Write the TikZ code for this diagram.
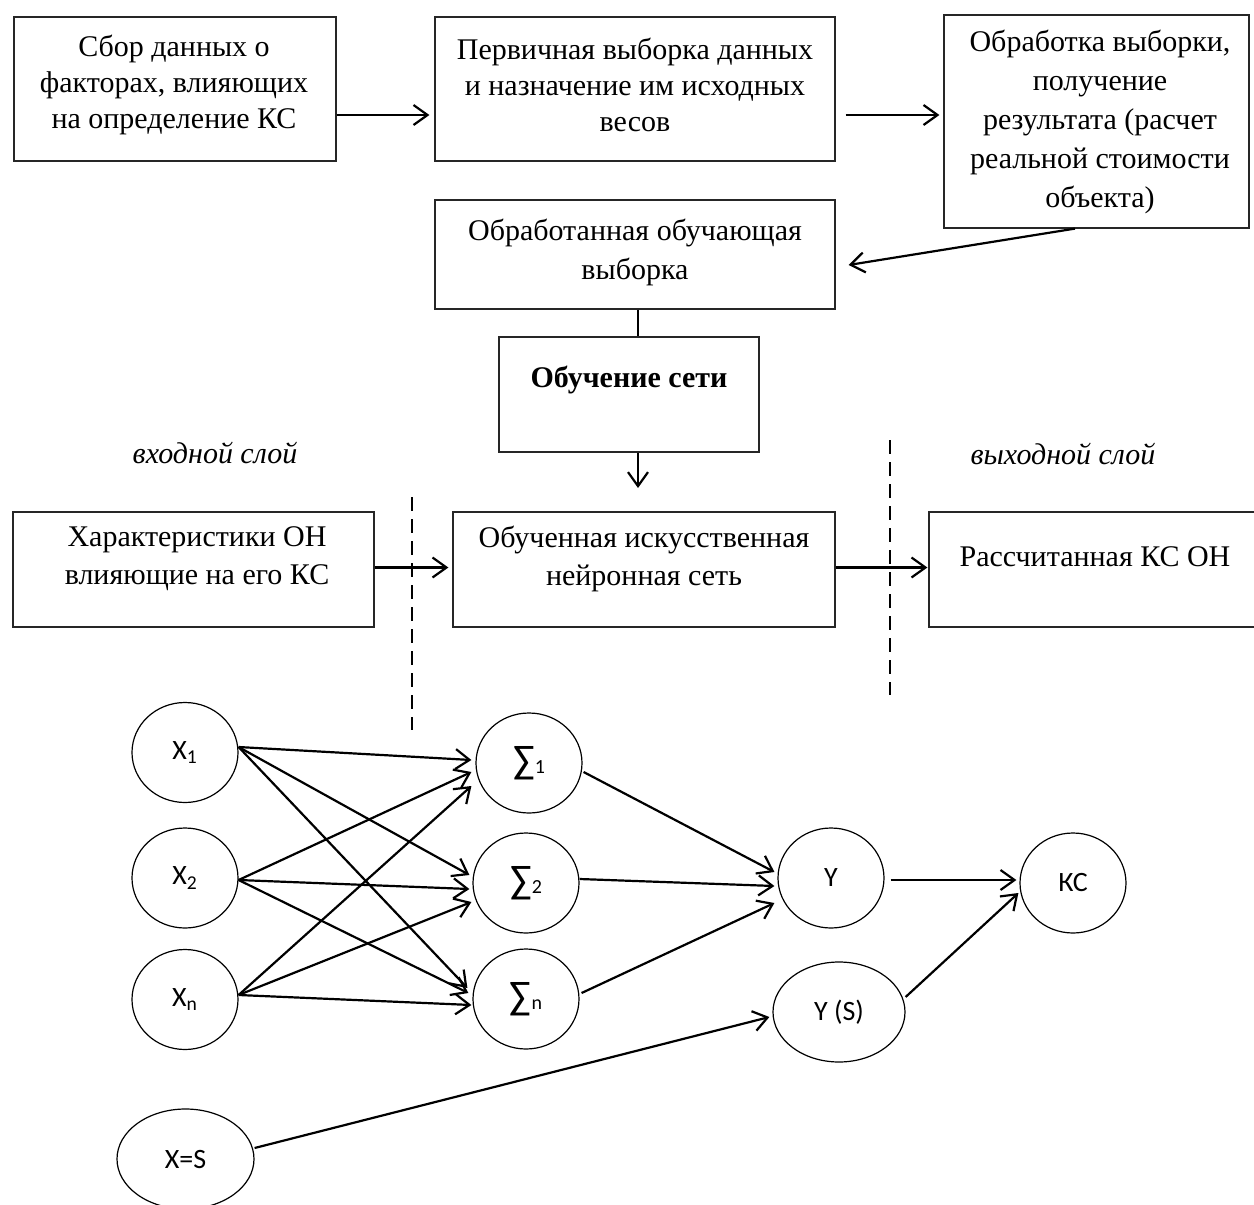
\documentclass[tikz,border=0pt]{standalone}
\usepackage{fontspec}
\setmainfont{Liberation Serif}
\newfontfamily\cf{Carlito}
\usetikzlibrary{arrows.meta,shapes.geometric}
\newcommand{\sg}[1]{{\fontsize{20pt}{20pt}\selectfont ∑}{\fontsize{10pt}{10pt}\selectfont #1}}
\begin{document}
\begin{tikzpicture}[x=0.5pt,y=-0.5pt,
  box/.style={draw=black!85,line width=0.6pt,rectangle,inner sep=0pt},
  txt/.style={align=center,inner sep=0pt,font=\fontsize{15pt}{19pt}\selectfont},
  lbl/.style={inner sep=0pt,font=\fontsize{15pt}{18pt}\selectfont\itshape},
  neur/.style={draw=black,line width=0.6pt,ellipse,minimum width=53pt,minimum height=50pt,inner sep=0pt,font=\cf\fontsize{14pt}{16pt}\selectfont},
  arr/.style={line width=1.1pt,-{Straight Barb[length=7pt,width=10pt,line width=1.1pt]}},
  plain/.style={line width=1.1pt},
  dsh/.style={line width=1pt,dash pattern=on 7pt off 4pt}]
\useasboundingbox (0,0) rectangle (1254,1205);
% boxes
\node[box,minimum width=161pt,minimum height=72pt] (A) at (175,89) {};
\node[box,minimum width=200pt,minimum height=72pt] (B) at (635,89) {};
\node[box,minimum width=152.5pt,minimum height=106.5pt] (C) at (1096.5,121.5) {};
\node[box,minimum width=200pt,minimum height=54.5pt] (D) at (635,254.5) {};
\node[box,minimum width=130pt,minimum height=57.5pt] (E) at (629,394.5) {};
\node[box,minimum width=180.5pt,minimum height=57.5pt] (F) at (193.5,569.5) {};
\node[box,minimum width=191pt,minimum height=57.5pt] (G) at (644,569.5) {};
\node[box,minimum width=166.5pt,minimum height=57.5pt] (H) at (1095.5,569.5) {};
% texts
\node[txt,font=\fontsize{15pt}{18pt}\selectfont] (At) at (174,85) {Сбор данных о\\факторах, влияющих\\на определение КС};
\node[txt,font=\fontsize{15pt}{18pt}\selectfont] (Bt) at (635,85) {Первичная выборка данных\\и назначение им исходных\\весов};
\node[txt,font=\fontsize{15pt}{19.5pt}\selectfont] (Ct) at (1100,122) {Обработка выборки,\\получение\\результата (расчет\\реальной стоимости\\объекта)};
\node[txt,font=\fontsize{15pt}{19.5pt}\selectfont] (Dt) at (635,252) {Обработанная обучающая\\выборка};
\node[txt,font=\fontsize{15pt}{19.5pt}\selectfont\bfseries] (Et) at (629,380) {Обучение сети};
\node[txt] (Ft) at (197,559) {Характеристики ОН\\влияющие на его КС};
\node[txt] (Gt) at (644,559) {Обученная искусственная\\нейронная сеть};
\node[txt] (Ht) at (1095,557) {Рассчитанная КС ОН};
\node[lbl] (Li) at (215,453) {входной слой};
\node[lbl] (Lo) at (1063,454) {выходной слой};
% dashed separators
\coordinate (dl1) at (412,497); \coordinate (dl2) at (412,730);
\coordinate (dr1) at (890,440); \coordinate (dr2) at (890,695);
\draw[dsh] (dl1) -- (dl2);
\draw[dsh] (dr1) -- (dr2);
% flow arrows
\draw[arr] ([yshift=-13pt]A.east) -- ([yshift=-13pt,xshift=-2.5pt]B.west);
\draw[arr] ([xshift=5pt,yshift=-13pt]B.east) -- ([xshift=-2pt,yshift=3.25pt]C.west);
\draw[arr] ([xshift=-10.75pt]C.south) -- ([xshift=6.5pt,yshift=-5.25pt]D.east);
\draw[plain] ([xshift=1.5pt]D.south) -- ([xshift=4.5pt]E.north);
\coordinate (eg) at (638,488);
\draw[arr] ([xshift=4.5pt]E.south) -- (eg);
\draw[arr] ([yshift=1pt]F.east) -- ([xshift=-2pt,yshift=1pt]G.west);
\draw[arr] ([yshift=1pt]G.east) -- ([xshift=-0.5pt,yshift=1pt]H.west);
% network
\node[neur] (X1) at (185,752.5) {X\textsubscript{1}};
\node[neur] (X2) at (185,878) {X\textsubscript{2}};
\node[neur] (Xn) at (185,999.5) {X\textsubscript{n}};
\node[neur] (S1) at (529,763) {\sg{1}};
\node[neur] (S2) at (526,883) {\sg{2}};
\node[neur] (Sn) at (526,999) {\sg{n}};
\node[neur] (Y) at (831,878) {Y};
\node[neur] (KC) at (1073,883) {КС};
\node[neur,minimum width=66pt] (YS) at (839,1012) {Y (S)};
\node[neur,minimum width=68.5pt] (XS) at (185.5,1159) {X=S};
% X -> Sigma
\draw[arr] ([shift={(0,-5.5)}]X1.east) -- ([shift={(-4,-3)}]S1.west);
\draw[arr] ([shift={(0,-5.5)}]X1.east) -- ([shift={(-3,-8)}]S2.west);
\draw[arr] ([shift={(0,-5.5)}]X1.east) -- ([shift={(-5,-11)}]Sn.west);
\draw[arr] ([shift={(0,2)}]X2.east) -- ([shift={(-4,9)}]S1.west);
\draw[arr] ([shift={(0,2)}]X2.east) -- ([shift={(-3,6)}]S2.west);
\draw[arr] ([shift={(0,2)}]X2.east) -- ([shift={(-4,-6)}]Sn.west);
\draw[arr] ([shift={(0,-4.5)}]Xn.east) -- ([shift={(-4,23)}]S1.west);
\draw[arr] ([shift={(0,-4.5)}]Xn.east) -- ([shift={(-1,19)}]S2.west);
\draw[arr] ([shift={(0,-4.5)}]Xn.east) -- ([shift={(-1,6)}]Sn.west);
% Sigma -> Y
\draw[arr] ([shift={(1,9)}]S1.east) -- ([shift={(-3,-6)}]Y.west);
\draw[arr] ([shift={(0,-4)}]S2.east) -- ([shift={(-3,8)}]Y.west);
\draw[arr] ([shift={(2,-6)}]Sn.east) -- ([shift={(-3,25)}]Y.west);
\draw[arr] ([shift={(6,2)}]Y.east) -- ([shift={(-3,-3)}]KC.west);
\draw[arr] ([shift={(0,-15)}]YS.east) -- ([shift={(-1,10)}]KC.west);
\draw[arr] ([shift={(0,-11)}]XS.east) -- ([shift={(-3,5)}]YS.west);
\end{tikzpicture}
\end{document}
